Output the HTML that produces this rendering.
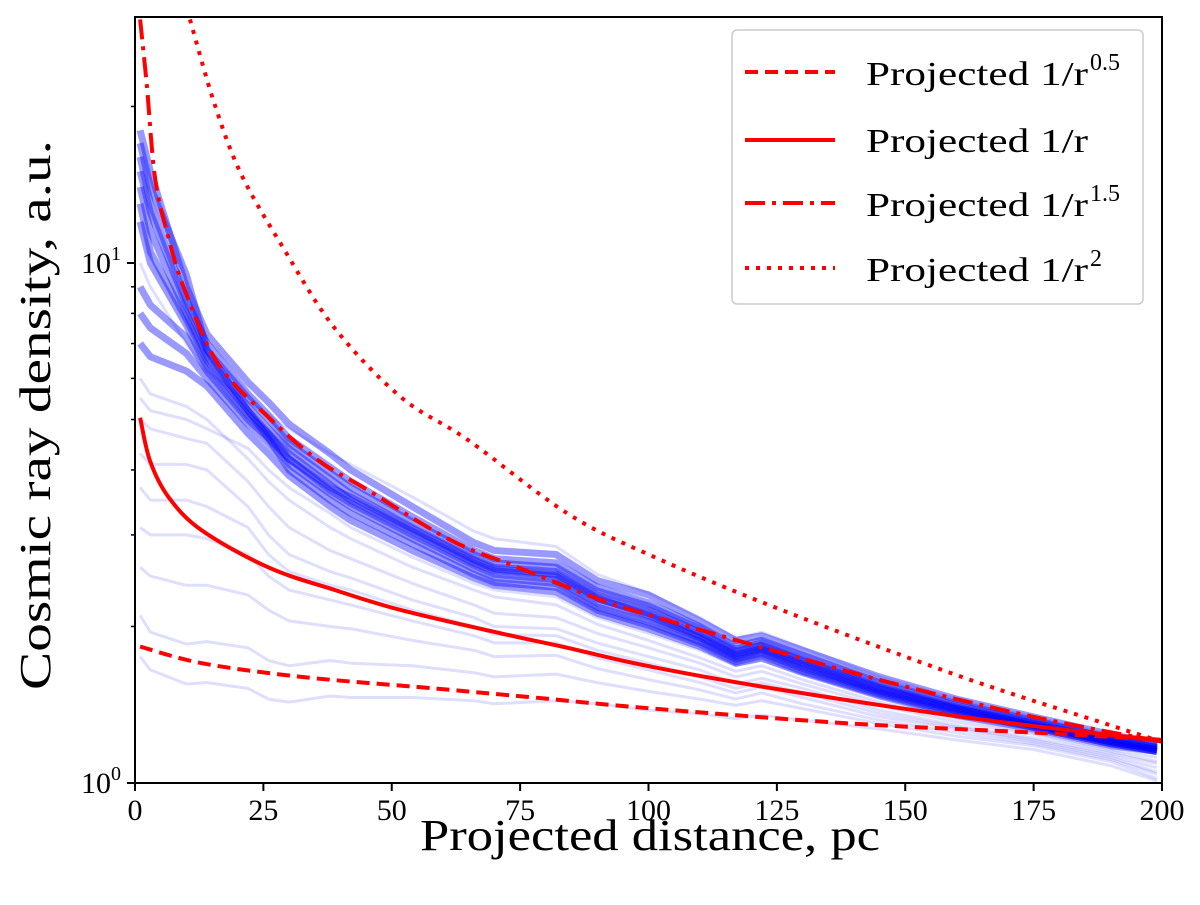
<!DOCTYPE html>
<html><head><meta charset="utf-8"><style>
body{margin:0;background:#fff}
svg text{font-family:"Liberation Serif","DejaVu Serif",serif;fill:#000}
</style></head><body>
<svg id="chart" width="1200" height="905" xmlns="http://www.w3.org/2000/svg" style="position:absolute;left:0;top:0">
<g id="plot"></g>
</svg>
<script>
const xTicks=[0,25,50,75,100,125,150,175,200];
const xs=[1,3,10,14,22,26,30,38,42,54,66,70,82,90,100,110,117,122,130,145,160,175,190,199];
const blueDense=[
[18,15,9.0,7.3,5.9,5.4,4.9,4.3,4.0,3.4,2.9,2.8,2.75,2.45,2.3,2.05,1.88,1.92,1.8,1.6,1.45,1.34,1.24,1.19],
[16,13,8.5,7.0,5.6,5.1,4.6,4.05,3.8,3.25,2.8,2.7,2.65,2.38,2.22,2.0,1.83,1.88,1.76,1.56,1.42,1.32,1.22,1.18],
[15,12.5,8.3,6.8,5.5,5.0,4.5,3.95,3.7,3.18,2.75,2.65,2.6,2.34,2.19,1.98,1.81,1.86,1.74,1.55,1.41,1.31,1.22,1.17],
[14,11.5,8.0,6.6,5.3,4.8,4.4,3.85,3.6,3.1,2.7,2.6,2.55,2.3,2.15,1.95,1.79,1.84,1.72,1.53,1.40,1.30,1.21,1.17],
[12,10,7.6,6.3,5.1,4.7,4.3,3.75,3.5,3.05,2.65,2.56,2.5,2.26,2.12,1.92,1.77,1.82,1.7,1.52,1.39,1.3,1.2,1.16],
[9,8.3,7.2,6.2,5.0,4.6,4.2,3.65,3.45,3.0,2.62,2.52,2.46,2.22,2.08,1.9,1.75,1.80,1.68,1.5,1.38,1.29,1.2,1.16],
[8,7.5,6.7,6.0,4.9,4.5,4.1,3.6,3.4,2.95,2.58,2.48,2.42,2.18,2.04,1.87,1.73,1.78,1.66,1.49,1.37,1.28,1.19,1.15],
[17,14,9.5,6.8,5.2,4.6,4.0,3.5,3.3,2.88,2.52,2.43,2.38,2.15,2.01,1.85,1.71,1.76,1.64,1.48,1.36,1.28,1.19,1.15],
[7,6.6,6.2,5.8,4.7,4.3,3.9,3.4,3.2,2.8,2.48,2.4,2.33,2.12,1.98,1.83,1.7,1.74,1.63,1.47,1.35,1.27,1.18,1.15],
[13,10.5,7.8,6.5,5.2,4.7,4.2,3.7,3.55,3.08,2.68,2.58,2.52,2.27,2.1,1.91,1.76,1.81,1.69,1.51,1.39,1.29,1.2,1.16]
];
const blueFaint=[
[6,5.6,5.3,5.0,4.2,3.8,3.5,3.1,2.95,2.6,2.35,2.28,2.2,2.02,1.88,1.74,1.64,1.68,1.58,1.43,1.33,1.25,1.16,1.12],
[5,4.8,4.6,4.5,3.8,3.4,3.1,2.8,2.7,2.42,2.2,2.12,2.08,1.94,1.82,1.7,1.6,1.64,1.55,1.41,1.31,1.24,1.15,1.1],
[4.3,4.1,4.1,4.0,3.4,3.0,2.75,2.55,2.48,2.25,2.08,2.0,1.98,1.86,1.75,1.65,1.55,1.59,1.52,1.38,1.29,1.22,1.14,1.09],
[3.7,3.5,3.5,3.4,3.1,2.75,2.55,2.4,2.35,2.15,2.0,1.93,1.92,1.8,1.7,1.6,1.52,1.56,1.49,1.36,1.28,1.21,1.13,1.07],
[3.1,3.0,3.0,2.95,2.75,2.5,2.35,2.25,2.2,2.05,1.92,1.86,1.86,1.74,1.65,1.56,1.49,1.53,1.46,1.34,1.27,1.2,1.12,1.05],
[2.6,2.5,2.4,2.4,2.3,2.15,2.05,2.0,1.98,1.88,1.8,1.75,1.76,1.66,1.58,1.51,1.45,1.49,1.42,1.32,1.25,1.19,1.11,1.04],
[2.1,1.95,1.85,1.87,1.82,1.72,1.68,1.72,1.7,1.68,1.63,1.6,1.62,1.56,1.5,1.45,1.41,1.44,1.39,1.3,1.23,1.18,1.1,1.02],
[1.75,1.65,1.55,1.56,1.52,1.45,1.43,1.47,1.46,1.46,1.44,1.42,1.44,1.42,1.38,1.36,1.33,1.35,1.32,1.27,1.21,1.16,1.08,1.01],
[10,9,7,6.2,5.4,5.1,4.8,4.3,4.1,3.55,3.05,2.95,2.85,2.52,2.32,2.08,1.9,1.95,1.82,1.6,1.45,1.34,1.24,1.19],
[5.5,5.2,5.0,4.8,4.4,4.0,3.7,3.3,3.1,2.72,2.42,2.35,2.28,2.08,1.94,1.8,1.68,1.72,1.62,1.46,1.35,1.27,1.18,1.14]
];
const dashR=[1,13,32.4,58.3,77.7,101,140,175,200];
const dashV=[1.83,1.70,1.60,1.52,1.46,1.39,1.30,1.25,1.21];
const solidR=[1,2.9,6.5,13,25.9,38.9,51.8,71.2,84.2,101,126,161,189,200];
const solidV=[5.04,4.17,3.55,3.06,2.60,2.35,2.15,1.94,1.82,1.67,1.51,1.34,1.24,1.21];
const dashdotR=[1,2.3,3.9,6.5,9.7,16.2,25.9,35.6,45.3,61.5,74.5,90.7,100.4,119,147,175,200];
const dashdotV=[29.4,22,14.6,11.2,8.87,6.39,5.06,4.18,3.66,2.93,2.60,2.25,2.10,1.86,1.56,1.34,1.2];
const dotR=[10.7,15.5,20.7,29.1,38.9,51.8,64.8,84.2,100.4,126,161,189,200];
const dotV=[29.4,20.2,14.8,10.6,7.49,5.52,4.57,3.3,2.74,2.15,1.6,1.3,1.2];

const X0=135,X1=1162,Y0=783,DEC=520,YT=17;
const sx=r=>X0+(r/200)*(X1-X0);
const sy=v=>Y0-Math.log10(v)*DEC;
const NS="http://www.w3.org/2000/svg";
const svg=document.getElementById('chart');
const plot=document.getElementById('plot');
function mk(t,a,p){const e=document.createElementNS(NS,t);for(const k in a)e.setAttribute(k,a[k]);(p||svg).appendChild(e);return e;}
const defs=mk('defs',{});const cp=mk('clipPath',{id:'clip'},defs);mk('rect',{x:X0,y:YT,width:X1-X0,height:Y0-YT},cp);
plot.setAttribute('clip-path','url(#clip)');
function pathD(rs,vs){return rs.map((r,i)=>(i?'L':'M')+sx(r).toFixed(1)+','+sy(vs[i]).toFixed(1)).join('');}
function smoothD(rs,vs){const p=rs.map((r,i)=>[sx(r),sy(vs[i])]);let d='M'+p[0][0]+','+p[0][1];
for(let i=0;i<p.length-1;i++){const a=p[Math.max(i-1,0)],b=p[i],c=p[i+1],e=p[Math.min(i+2,p.length-1)];
const c1=[b[0]+(c[0]-a[0])/6,b[1]+(c[1]-a[1])/6],c2=[c[0]-(e[0]-b[0])/6,c[1]-(e[1]-b[1])/6];
d+='C'+c1.map(n=>n.toFixed(1))+' '+c2.map(n=>n.toFixed(1))+' '+c[0].toFixed(1)+','+c[1].toFixed(1);}return d;}
blueFaint.forEach(s=>{const p=mk('path',{d:pathD(xs,s),fill:'none',stroke:'#0000ff','stroke-opacity':0.13,'stroke-width':3,'stroke-linejoin':'round'},plot);

});
blueDense.forEach(s=>{const p=mk('path',{d:pathD(xs,s),fill:'none',stroke:'#0000ff','stroke-opacity':0.4,'stroke-width':7,'stroke-linejoin':'round'},plot);

});
const reds=[[dashR,dashV,'13,7','dashed-curve'],[solidR,solidV,null,'solid-curve'],[dashdotR,dashdotV,'20,7,4,7','dashdot-curve'],[dotR,dotV,'4,7','dotted-curve']];
reds.forEach(([r,v,da,nm])=>{const a={d:smoothD(r,v),fill:'none',stroke:'#ff0000','stroke-width':4};if(da)a['stroke-dasharray']=da;const p=mk('path',a,plot);

});
const fr=mk('rect',{x:X0,y:YT,width:X1-X0,height:Y0-YT,fill:'none',stroke:'#000','stroke-width':2});


xTicks.forEach(t=>{mk('line',{x1:sx(t),x2:sx(t),y1:Y0,y2:Y0+8,stroke:'#000','stroke-width':2});
const tx=mk('text',{x:sx(t),y:Y0+37,'font-size':30,'text-anchor':'middle'});tx.textContent=t;

});
for(let d=0;d<2;d++)for(let k=1;k<10;k++){const v=k*Math.pow(10,d);const y=sy(v);if(y<YT)continue;
mk('line',{x1:X0-(k==1?8:4),x2:X0,y1:y,y2:y,stroke:'#000','stroke-width':k==1?2:1.5});}
[[1,0],[10,1]].forEach(([v,e])=>{const t=mk('text',{x:X0-14,y:sy(v)+10,'font-size':30,'text-anchor':'end'});
t.innerHTML='10<tspan dy="-13" font-size="20">'+e+'</tspan>';

});
</script>
<svg style="position:absolute;left:0;top:0" width="1200" height="905" xmlns="http://www.w3.org/2000/svg">
<text x="420" y="850" font-size="44" textLength="460" lengthAdjust="spacingAndGlyphs">Projected distance,  pc</text>
<text transform="translate(50,690) rotate(-90)" font-size="44" textLength="550" lengthAdjust="spacingAndGlyphs">Cosmic ray density,  a.u.</text>
<g>
<rect x="732" y="30" width="411" height="274" rx="5" fill="#fff" stroke="#ccc" stroke-width="1.5"/>
<line x1="745" y1="72" x2="835" y2="72" stroke="#f00" stroke-width="4" stroke-dasharray="13,7"/>
<text x="866" y="85" font-size="34" textLength="222" lengthAdjust="spacingAndGlyphs">Projected 1/r</text>
<text x="1090" y="70" font-size="24">0.5</text>
<line x1="745" y1="140" x2="835" y2="140" stroke="#f00" stroke-width="4"/>
<text x="866" y="152" font-size="34" textLength="222" lengthAdjust="spacingAndGlyphs">Projected 1/r</text>
<line x1="745" y1="203" x2="835" y2="203" stroke="#f00" stroke-width="4" stroke-dasharray="20,7,4,7"/>
<text x="866" y="216" font-size="34" textLength="222" lengthAdjust="spacingAndGlyphs">Projected 1/r</text>
<text x="1090" y="201" font-size="24">1.5</text>
<line x1="745" y1="268" x2="835" y2="268" stroke="#f00" stroke-width="4" stroke-dasharray="4,7"/>
<text x="866" y="281" font-size="34" textLength="222" lengthAdjust="spacingAndGlyphs">Projected 1/r</text>
<text x="1090" y="266" font-size="24">2</text>
</g>
</svg>
</body></html>
